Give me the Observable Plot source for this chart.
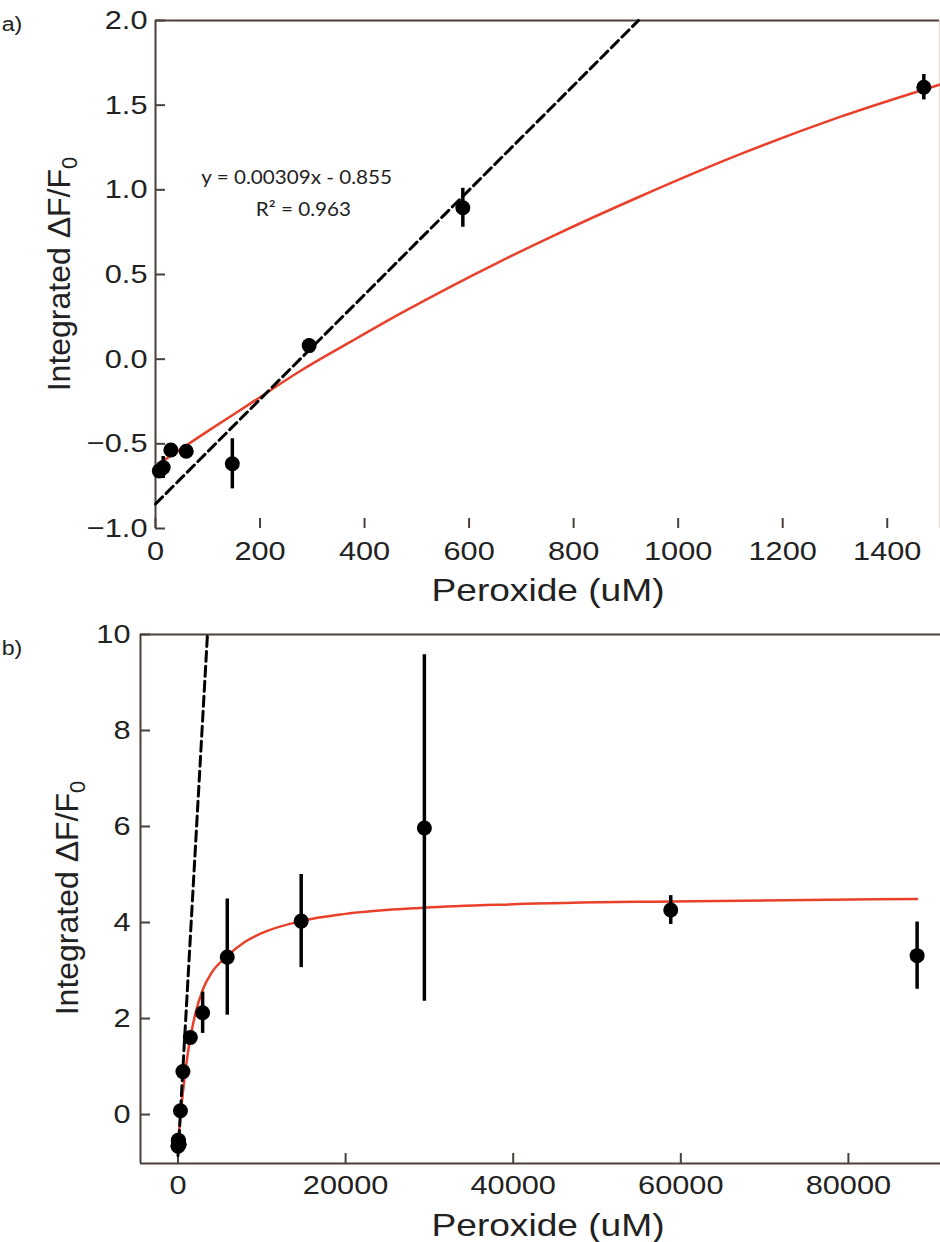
<!DOCTYPE html>
<html><head><meta charset="utf-8">
<script src="https://cdn.jsdelivr.net/npm/d3@7"></script>
<script src="https://cdn.jsdelivr.net/npm/@observablehq/plot@0.6"></script>
<style>
body{margin:0;background:#fff;}
#wrap{position:relative;width:940px;height:1242px;overflow:hidden;}
#wrap svg{display:block;}
</style></head><body><div id="wrap"></div>
<script>
// ---- data ----
const peroxide = [7.35, 14.7, 29.4, 58.8, 147, 294, 588, 1470, 2940, 5880, 14700, 29400, 58800, 88200];
const signal   = [-0.66, -0.64, -0.536, -0.544, -0.618, 0.08, 0.894, 1.606, 2.12, 3.28, 4.03, 5.97, 4.26, 3.31];
const errorBar = [0.03, 0.065, 0.02, 0.02, 0.148, 0.04, 0.115, 0.075, 0.43, 1.21, 0.97, 3.61, 0.30, 0.70];

const fitX = [0, 100, 182, 277, 373, 469, 565, 660, 756, 928, 1120, 1311, 1500, 2000, 3000, 4000, 6000, 8000, 10000, 14700, 20000, 29400, 40000, 58800, 88200];
const fitY = [-0.63, -0.425, -0.261, -0.07, 0.102, 0.27, 0.429, 0.578, 0.721, 0.962, 1.212, 1.432, 1.621, 2.05, 2.62, 2.95, 3.32, 3.6, 3.78, 4.03, 4.18, 4.31, 4.38, 4.44, 4.49];

const linearAX = [0, 924];
const linearAY = [-0.855, 2.0];
const linearBX = [0, 3513];
const linearBY = [-0.855, 10];

const noteLines = ["y = 0.00309x - 0.855", "R\u00B2 = 0.963"];

const xDomainA = [0, 1500];
const yDomainA = [-1, 2];
const xTicksA = [0, 200, 400, 600, 800, 1000, 1200, 1400];
const yTicksA = [-1.0, -0.5, 0.0, 0.5, 1.0, 1.5, 2.0];

const xDomainB = [-4475, 90990];
const yDomainB = [-1.02, 10];
const xTicksB = [0, 20000, 40000, 60000, 80000];
const yTicksB = [0, 2, 4, 6, 8, 10];

const panelLabels = ["a)", "b)"];
const xTitle = "Peroxide (uM)";

// ---- build tables ----
const points = peroxide.map((x, i) => ({x, y: signal[i], lo: signal[i] - errorBar[i], hi: signal[i] + errorBar[i]}));
const fit = fitX.map((x, i) => ({x, y: fitY[i]}));
const linA = linearAX.map((x, i) => ({x, y: linearAY[i]}));
const linB = linearBX.map((x, i) => ({x, y: linearBY[i]}));

const ink = "#222";
const axisInk = "#4a403a";
const red = "#e8402a";
const sans = "'Liberation Sans', Arial, Helvetica, sans-serif";
const STRETCH = 1.16;

function stretchTicks(svg) {
  svg.querySelectorAll('g[aria-label$="tick label"] text').forEach(t => {
    const tr = t.getAttribute("transform") || "";
    t.setAttribute("transform", tr + ` scale(${STRETCH},1)`);
  });
}
function addTexts(svg, {label, labelY, yTitleX, yTitleY, xTitleY}) {
  const s = d3.select(svg);
  s.append("text").attr("transform", `translate(12,${labelY}) scale(${STRETCH},1)`)
    .attr("font-family", sans).attr("font-size", 20).attr("fill", ink).text(label);
  s.append("text").attr("transform", `translate(548,${xTitleY}) scale(${STRETCH},1)`)
    .attr("text-anchor", "middle").attr("font-family", sans).attr("font-size", 32).attr("fill", ink).text(xTitle);
  const t = s.append("text").attr("transform", `translate(${yTitleX},${yTitleY}) rotate(-90)`)
    .attr("text-anchor", "middle").attr("font-family", sans).attr("font-size", 32).attr("fill", ink);
  t.append("tspan").text("Integrated \u0394F/F");
  t.append("tspan").attr("font-size", 22).attr("dy", 7).text("0");
}

const style = {fontFamily: sans, fontSize: "26.5px", color: ink, background: "white", overflow: "visible"};
const noteFont = "Lato, 'Open Sans', sans-serif";

// ---- panel a ----
const ptsA = points.filter(d => d.x <= xDomainA[1]);
const fitA = fit.filter(d => d.x <= xDomainA[1]);
const A = Plot.plot({
  width: 940, height: 610,
  marginLeft: 155, marginRight: 1, marginTop: 20, marginBottom: 82,
  x: {domain: xDomainA}, y: {domain: yDomainA},
  style,
  marks: [
    Plot.axisX({ticks: xTicksA, tickSize: -10, tickPadding: 23, tickFormat: d3.format("d"), label: null, stroke: axisInk, strokeWidth: 2}),
    Plot.axisY({ticks: yTicksA, tickSize: -10, tickPadding: 18, tickFormat: d3.format(".1f"), label: null, stroke: axisInk, strokeWidth: 2}),
    Plot.ruleX([xDomainA[1]], {stroke: "#e2d8d2", strokeWidth: 1}),
    Plot.ruleX([xDomainA[0]], {stroke: axisInk, strokeWidth: 2}),
    Plot.ruleY([yDomainA[1]], {stroke: axisInk, strokeWidth: 2}),
    Plot.line(fitA, {x: "x", y: "y", stroke: red, strokeWidth: 2.5, curve: "monotone-x"}),
    Plot.line(linA, {x: "x", y: "y", stroke: "black", strokeWidth: 3, strokeDasharray: "10,5"}),
    Plot.ruleX(ptsA, {x: "x", y1: "lo", y2: "hi", stroke: "black", strokeWidth: 3.5}),
    Plot.dot(ptsA, {x: "x", y: "y", r: 7.5, fill: "black", stroke: "none"}),
    Plot.text([noteLines[0]], {x: 270, y: 1.073, text: d => d, fontFamily: noteFont, fontSize: 19.5, fill: ink, textAnchor: "middle"}),
    Plot.text([noteLines[1]], {x: 283, y: 0.881, text: d => d, fontFamily: noteFont, fontSize: 19.5, fill: ink, textAnchor: "middle"})
  ]
});
stretchTicks(A);
A.querySelectorAll('g[aria-label="text"] text').forEach(t => {
  t.setAttribute("transform", (t.getAttribute("transform") || "") + " scale(1.06,1)");
});
addTexts(A, {label: panelLabels[0], labelY: 31, yTitleX: 70, yTitleY: 274, xTitleY: 601});

// ---- panel b ----
const B = Plot.plot({
  width: 940, height: 632,
  marginLeft: 140, marginRight: 0, marginTop: 24, marginBottom: 79,
  x: {domain: xDomainB}, y: {domain: yDomainB},
  style,
  marks: [
    Plot.axisX({ticks: xTicksB, tickSize: -10, tickPadding: 22, tickFormat: d3.format("d"), label: null, stroke: axisInk, strokeWidth: 2}),
    Plot.axisY({ticks: yTicksB, tickSize: -10, tickPadding: 20, tickFormat: d3.format("d"), label: null, stroke: axisInk, strokeWidth: 2}),
    Plot.ruleX([xDomainB[0]], {stroke: axisInk, strokeWidth: 2}),
    Plot.ruleY([yDomainB[1]], {stroke: axisInk, strokeWidth: 2}),
    Plot.ruleY([yDomainB[0]], {stroke: axisInk, strokeWidth: 2}),
    Plot.line(fit, {x: "x", y: "y", stroke: red, strokeWidth: 2.5, curve: "monotone-x"}),
    Plot.line(linB, {x: "x", y: "y", stroke: "black", strokeWidth: 3, strokeDasharray: "10,5"}),
    Plot.ruleX(points, {x: "x", y1: "lo", y2: "hi", stroke: "black", strokeWidth: 3.5}),
    Plot.dot(points, {x: "x", y: "y", r: 7.5, fill: "black", stroke: "none"})
  ]
});
stretchTicks(B);
addTexts(B, {label: panelLabels[1], labelY: 45, yTitleX: 78, yTitleY: 288, xTitleY: 626});

const wrap = document.getElementById("wrap");
wrap.appendChild(A);
wrap.appendChild(B);
</script>
</body></html>
